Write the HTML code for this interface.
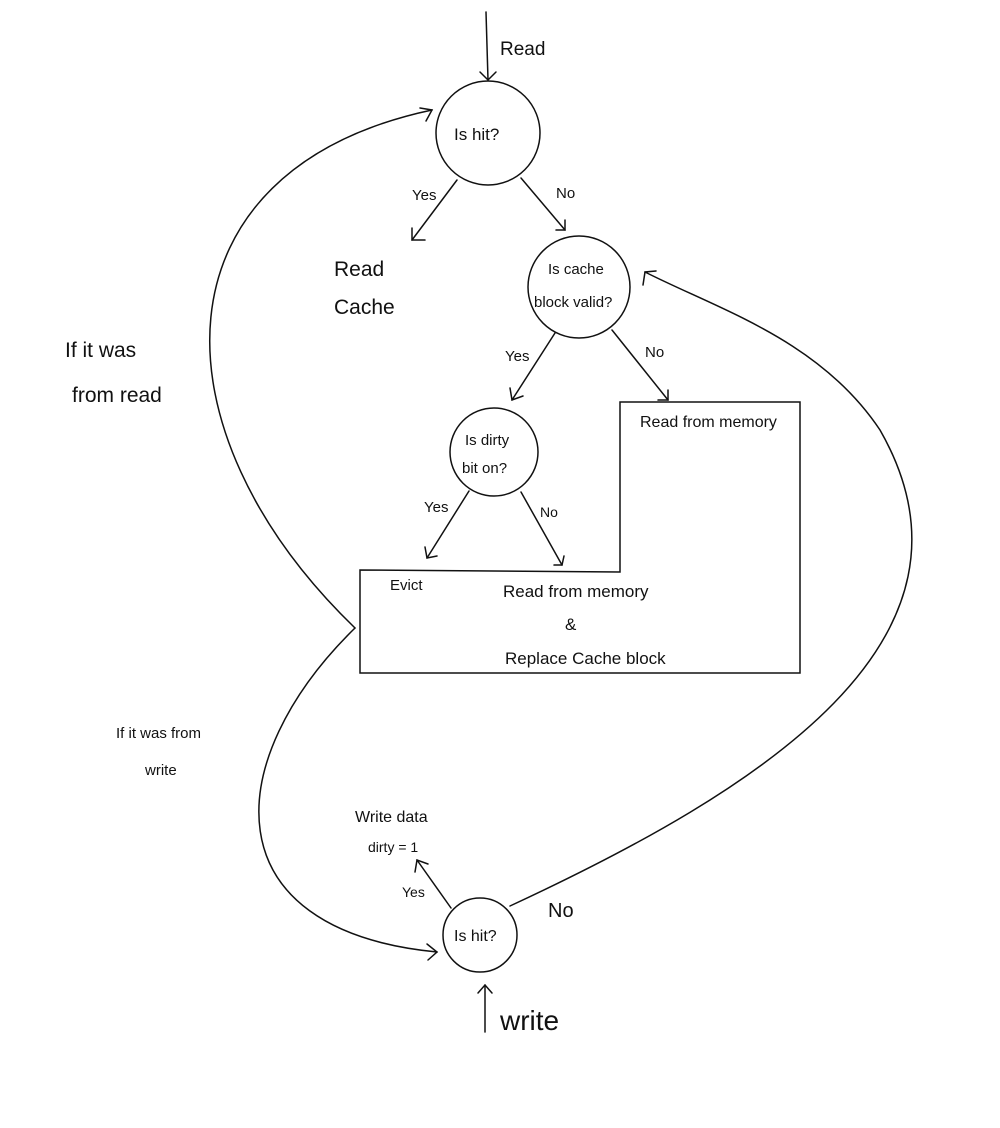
<!DOCTYPE html>
<html><head><meta charset="utf-8"><style>
html,body{margin:0;padding:0;background:#fff;}
svg{display:block;}
text{font-family:"Liberation Sans",sans-serif;fill:#111;}
</style></head><body>
<svg width="1000" height="1128" viewBox="0 0 1000 1128" xmlns="http://www.w3.org/2000/svg">
<g fill="none" stroke="#111" stroke-width="1.5" stroke-linecap="round">
<!-- top arrow -->
<line x1="486" y1="12" x2="488" y2="80"/><path d="M480,72 L488,80 L496,72"/>
<circle cx="488" cy="133" r="52"/>
<line x1="457" y1="180" x2="412" y2="240"/><path d="M412,228 L412,240 L425,240"/>
<line x1="521" y1="178" x2="565" y2="230"/><path d="M565,220 L565,230 L556,230"/>
<circle cx="579" cy="287" r="51"/>
<line x1="555" y1="333" x2="512" y2="400"/><path d="M510,388 L512,400 L523,396"/>
<line x1="612" y1="330" x2="668" y2="400"/><path d="M668,390 L668,400 L658,400"/>
<circle cx="494" cy="452" r="44"/>
<line x1="469" y1="491" x2="427" y2="558"/><path d="M425,547 L427,558 L437,556"/>
<line x1="521" y1="492" x2="562" y2="565"/><path d="M564,556 L562,565 L554,565"/>
<path d="M360,570 L620,572 L620,402 L800,402 L800,673 L360,673 Z"/>
<!-- left loops -->
<path d="M355,628 C150,430 150,170 432,110"/><path d="M420,108 L432,110 L426,121"/>
<path d="M355,628 C220,760 210,930 437,952"/><path d="M427,944 L437,952 L428,960"/>
<circle cx="480" cy="935" r="37"/>
<line x1="451" y1="908" x2="417" y2="860"/><path d="M415,872 L417,860 L428,864"/>
<path d="M510,906 C760,790 1000,640 880,430 C820,340 720,310 645,272"/><path d="M643,285 L645,272 L656,271"/>
<line x1="485" y1="1032" x2="485" y2="985"/><path d="M478,993 L485,985 L492,993"/>
</g>
<g font-size="16">
<text x="500" y="55" font-size="19">Read</text>
<text x="454" y="140" font-size="17">Is hit?</text>
<text x="548" y="274" font-size="15">Is cache</text>
<text x="534" y="307" font-size="15">block valid?</text>
<text x="465" y="445" font-size="15">Is dirty</text>
<text x="462" y="473" font-size="15">bit on?</text>
<text x="412" y="200" font-size="15">Yes</text>
<text x="556" y="198" font-size="15">No</text>
<text x="334" y="276" font-size="21">Read</text>
<text x="334" y="314" font-size="21">Cache</text>
<text x="505" y="361" font-size="15">Yes</text>
<text x="645" y="357" font-size="15">No</text>
<text x="424" y="512" font-size="15">Yes</text>
<text x="540" y="517" font-size="14">No</text>
<text x="640" y="427" font-size="16">Read from memory</text>
<text x="390" y="590" font-size="15">Evict</text>
<text x="503" y="597" font-size="17">Read from memory</text>
<text x="565" y="630" font-size="17">&amp;</text>
<text x="505" y="664" font-size="17">Replace Cache block</text>
<text x="65" y="357" font-size="21">If it was</text>
<text x="72" y="402" font-size="21">from read</text>
<text x="116" y="738" font-size="15">If it was from</text>
<text x="145" y="775" font-size="15">write</text>
<text x="355" y="822" font-size="16">Write data</text>
<text x="368" y="852" font-size="14">dirty = 1</text>
<text x="402" y="897" font-size="14">Yes</text>
<text x="548" y="917" font-size="20">No</text>
<text x="454" y="941" font-size="16">Is hit?</text>
<text x="500" y="1030" font-size="28">write</text>
</g>
</svg>
</body></html>
